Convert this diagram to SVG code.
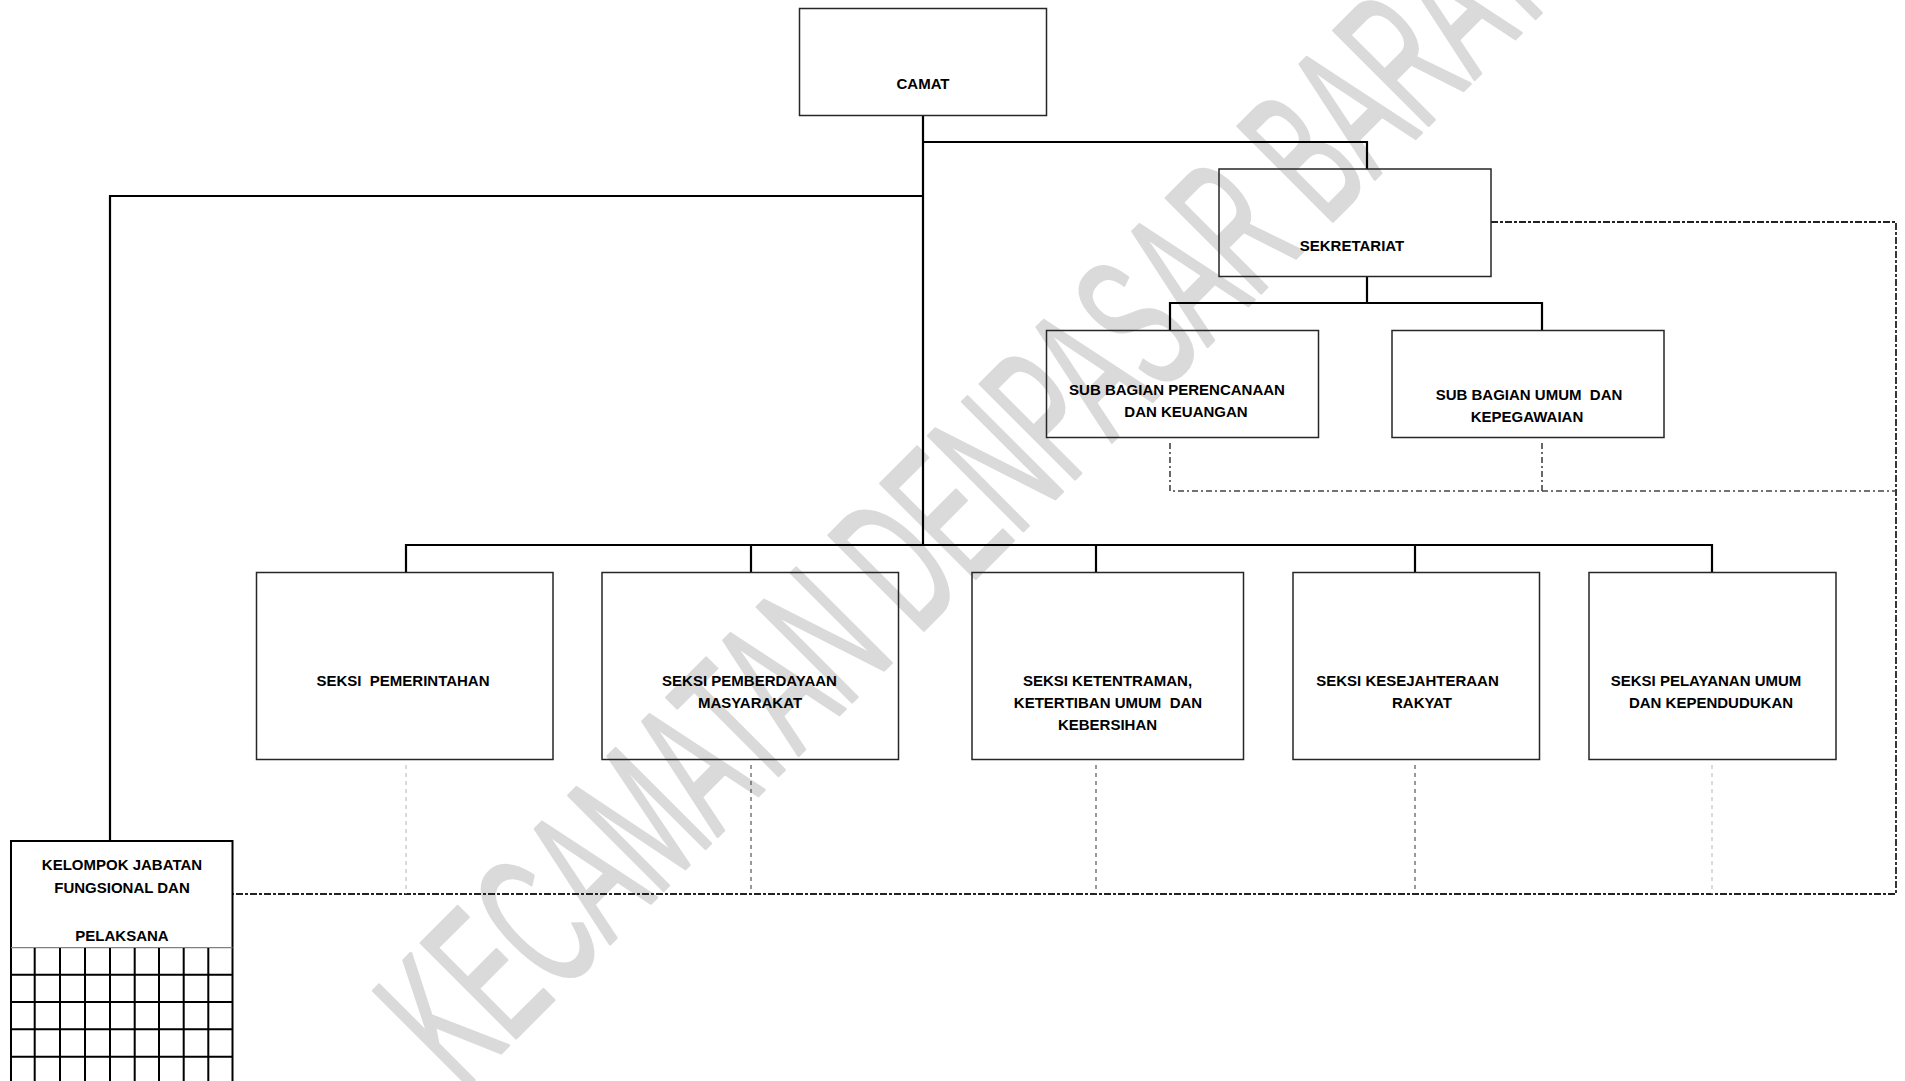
<svg xmlns="http://www.w3.org/2000/svg" width="1905" height="1081" viewBox="0 0 1905 1081">
<style>
.box{fill:none;stroke:#262626;stroke-width:1.5}
.t{font-family:"Liberation Sans",Arial,sans-serif;font-weight:bold;font-size:15px;fill:#000;text-anchor:middle}
.solid{fill:none;stroke:#000;stroke-width:2.2}
.dd{fill:none;stroke:#222;stroke-width:1.8;stroke-dasharray:7 2 3 2}
.dg{fill:none;stroke:#444;stroke-width:1.6;stroke-dasharray:6 3 2 3}
.dv{fill:none;stroke:#333;stroke-width:1;stroke-dasharray:4 4}
.dl{fill:none;stroke:#b5b5b5;stroke-width:1;stroke-dasharray:4 4}
.grid{fill:none;stroke:#000;stroke-width:2}
.wm{font-family:"Liberation Sans",Arial,sans-serif;font-size:195px;fill:#dadada;stroke:#dadada;stroke-width:3;stroke-linejoin:round}
</style>
<rect width="1905" height="1081" fill="#fff"/>
<g id="watermark">
<text class="wm" transform="translate(462,1092) rotate(-45) scale(0.52,1)">KECAMATAN DENPASAR BARAT</text>
</g>
<g id="connectors">
<path class="solid" d="M923 115V545M923 142H1367V169M923 196H110V841"/>
<path class="solid" d="M1367 277V303M1170 330V303H1542V330"/>
<path class="solid" d="M406 572V545H1712V572M751 545V572M1096 545V572M1415 545V572"/>
<path class="dd" d="M1491 222H1896V894H233"/>
<path class="dg" d="M1170 443V491H1896M1542 443V491"/>
<path class="dl" d="M406 765V894M1712 765V894"/>
<path class="dv" d="M751 765V894M1096 765V894M1415 765V894"/>
</g>
<g id="camat">
<rect class="box" x="799.5" y="8.5" width="247" height="107"/>
<text class="t" x="923" y="89">CAMAT</text>
</g>
<g id="sekretariat">
<rect class="box" x="1219" y="169" width="272" height="107.5"/>
<text class="t" x="1352" y="250.5">SEKRETARIAT</text>
</g>
<g id="sub-perencanaan">
<rect class="box" x="1046.5" y="330.5" width="272" height="107"/>
<text class="t" x="1177" y="394.5">SUB BAGIAN PERENCANAAN</text>
<text class="t" x="1186" y="417">DAN KEUANGAN</text>
</g>
<g id="sub-umum">
<rect class="box" x="1392" y="330.5" width="272" height="107"/>
<text class="t" x="1529" y="399.5" xml:space="preserve">SUB BAGIAN UMUM  DAN</text>
<text class="t" x="1527" y="422">KEPEGAWAIAN</text>
</g>
<g id="seksi-pemerintahan">
<rect class="box" x="256.5" y="572.5" width="296.5" height="187"/>
<text class="t" x="403" y="686" xml:space="preserve">SEKSI  PEMERINTAHAN</text>
</g>
<g id="seksi-pemberdayaan">
<rect class="box" x="602" y="572.5" width="296.5" height="187"/>
<text class="t" x="749.5" y="686">SEKSI PEMBERDAYAAN</text>
<text class="t" x="750" y="708">MASYARAKAT</text>
</g>
<g id="seksi-ketentraman">
<rect class="box" x="972" y="572.5" width="271.5" height="187"/>
<text class="t" x="1107.5" y="686">SEKSI KETENTRAMAN,</text>
<text class="t" x="1108" y="708" xml:space="preserve">KETERTIBAN UMUM  DAN</text>
<text class="t" x="1107.5" y="730">KEBERSIHAN</text>
</g>
<g id="seksi-kesejahteraan">
<rect class="box" x="1293" y="572.5" width="246.5" height="187"/>
<text class="t" x="1407.5" y="686">SEKSI KESEJAHTERAAN</text>
<text class="t" x="1422" y="708">RAKYAT</text>
</g>
<g id="seksi-pelayanan">
<rect class="box" x="1589" y="572.5" width="247" height="187"/>
<text class="t" x="1706" y="686">SEKSI PELAYANAN UMUM</text>
<text class="t" x="1711" y="708">DAN KEPENDUDUKAN</text>
</g>
<g id="kelompok">
<rect x="11" y="841" width="221.5" height="250" fill="#fff" stroke="#000" stroke-width="2"/>
<text class="t" x="122" y="870">KELOMPOK JABATAN</text>
<text class="t" x="122" y="892.5">FUNGSIONAL DAN</text>
<text class="t" x="122" y="940.5">PELAKSANA</text>
<line x1="11" y1="947.7" x2="232.5" y2="947.7" stroke="#808080" stroke-width="1.2"/>
<path class="grid" d="M34.7 948V1081M60 948V1081M85 948V1081M110 948V1081M134.7 948V1081M159 948V1081M183.7 948V1081M208.3 948V1081M11 974.7H232.5M11 1002H232.5M11 1029.3H232.5M11 1056.7H232.5"/>
</g>
</svg>
